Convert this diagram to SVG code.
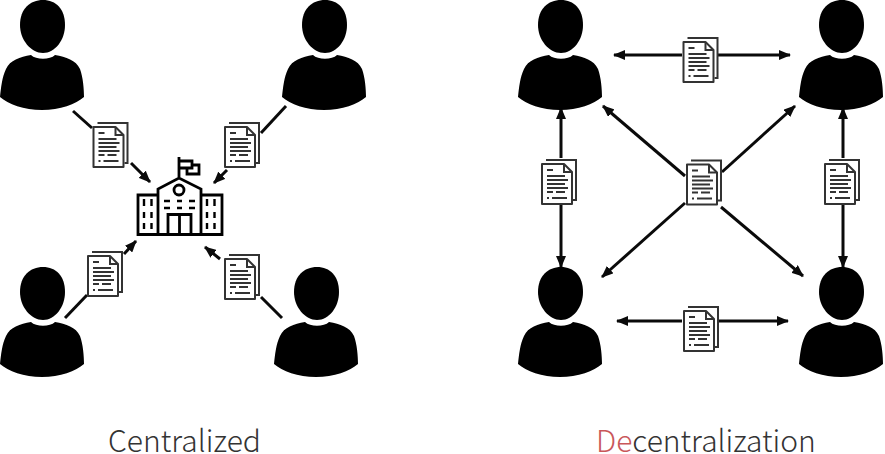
<svg xmlns="http://www.w3.org/2000/svg" width="885" height="454" viewBox="0 0 885 454">
<style>
.c{fill:none;stroke:#0a0a0a;stroke-width:3}
.p{stroke:#333;fill:none;stroke-width:2}
.pf{stroke:#333;fill:#fff;stroke-width:2;stroke-linejoin:round}
.t{stroke:#333;fill:none;stroke-width:2.100}
.s{stroke:#000;fill:none;stroke-width:2.800}
.b{stroke:#000;fill:none;stroke-width:2.400}
text{font-family:"Noto Sans CJK KR","Noto Sans",sans-serif;font-size:30px;font-weight:300;fill:#333}
</style>
<defs>
<marker id="a" markerWidth="12" markerHeight="10" refX="11" refY="5" orient="auto-start-reverse" markerUnits="userSpaceOnUse"><path d="M0 0L12 5L0 10Z" fill="#0a0a0a"/></marker>
<symbol id="person" width="86" height="112" viewBox="0 0 86 112" overflow="visible">
<path d="M43 0C56 0 65 9 65 25C65 40 55 53 43 53C31 53 20 40 20 25C20 9 30 0 43 0Z" fill="#000"/>
<path d="M31 55C36 60 50 60 55 55C66 57 76 60 80 69C83 77 84 89 84 97C76 104 60 110 42 110C24 110 8 104 0 97C1 88 2 77 6 69C10 60 20 57 31 55Z" fill="#000"/>
</symbol>
<symbol id="doc" width="37" height="47" viewBox="0 0 37 47" overflow="visible">
<path class="p" d="M5 1H35V41H32"/>
<path class="pf" d="M1 5H23L31 13V45H1Z"/>
<path class="p" d="M23 5V13H31"/>
<path class="t" d="M6 11H12M6 17H24M6 21H27M6 25H24M6 29H27M6 33H12M15 33H24M6 39H8M11 39H26"/>
</symbol>
</defs>
<g id="connectors">
<path class="c" d="M73 111L92 128"/>
<path class="c" d="M131 163L150 182" marker-end="url(#a)"/>
<path class="c" d="M286 106L261 133"/>
<path class="c" d="M227 170L214 183" marker-end="url(#a)"/>
<path class="c" d="M65 318L87 295"/>
<path class="c" d="M124 254L136 241" marker-end="url(#a)"/>
<path class="c" d="M220 259L205 247" marker-end="url(#a)"/>
<path class="c" d="M261 297L282 318"/>
<path class="c" d="M682 55H614" marker-end="url(#a)"/>
<path class="c" d="M718 55H790" marker-end="url(#a)"/>
<path class="c" d="M561 158V108" marker-end="url(#a)"/>
<path class="c" d="M561 205V267" marker-end="url(#a)"/>
<path class="c" d="M843 158V108" marker-end="url(#a)"/>
<path class="c" d="M843 205V267" marker-end="url(#a)"/>
<path class="c" d="M682 321H617" marker-end="url(#a)"/>
<path class="c" d="M718 321H788" marker-end="url(#a)"/>
<path class="c" d="M685 176L603 106" marker-end="url(#a)"/>
<path class="c" d="M722 172L795 106" marker-end="url(#a)"/>
<path class="c" d="M685 203L602 277" marker-end="url(#a)"/>
<path class="c" d="M721 207L803 276" marker-end="url(#a)"/>
</g>
<g id="person-c1"><use href="#person" x="0" y="0"/></g>
<g id="person-c2"><use href="#person" x="282" y="0"/></g>
<g id="person-c3"><use href="#person" x="0" y="267"/></g>
<g id="person-c4"><use href="#person" x="274" y="267"/></g>
<g id="person-d1"><use href="#person" x="518" y="0"/></g>
<g id="person-d2"><use href="#person" x="799" y="0"/></g>
<g id="person-d3"><use href="#person" x="518" y="267"/></g>
<g id="person-d4"><use href="#person" x="799" y="267"/></g>
<g id="doc-c1"><use href="#doc" x="92.500" y="122"/></g>
<g id="doc-c2"><use href="#doc" x="224" y="122"/></g>
<g id="doc-c3"><use href="#doc" x="87" y="251"/></g>
<g id="doc-c4"><use href="#doc" x="224" y="254"/></g>
<g id="doc-d1"><use href="#doc" x="682.500" y="37"/></g>
<g id="doc-d2"><use href="#doc" x="541" y="159"/></g>
<g id="doc-d3"><use href="#doc" x="686" y="159.500"/></g>
<g id="doc-d4"><use href="#doc" x="824" y="159"/></g>
<g id="doc-d5"><use href="#doc" x="683" y="306"/></g>
<g id="school">
<path class="s" d="M158 195H138V234.500H222V195H201M158 234V189L179 178L201 189V234"/>
<circle class="s" cx="179" cy="190" r="5"/>
<path class="s" d="M168 234V214.500H191V234M179.500 214.500V234"/>
<path class="s" d="M179 177V157M180 161H192V168H180M192 165H199V174H187V168"/>
<path class="b" d="M144 199V206M151.500 199V206M144 212V218M151.500 212V218M144 223V229M151.500 223V229M207 199V206M214.500 199V206M207 212V218M214.500 212V218M207 223V229M214.500 223V229M164 201H170M177 201H182M189 201H195M164 208H170M177 208H182M189 208H195"/>
</g>
<text x="108" y="452">Centralized</text>
<text x="596" y="452"><tspan fill="#c9575a">De</tspan>centralization</text>
</svg>
